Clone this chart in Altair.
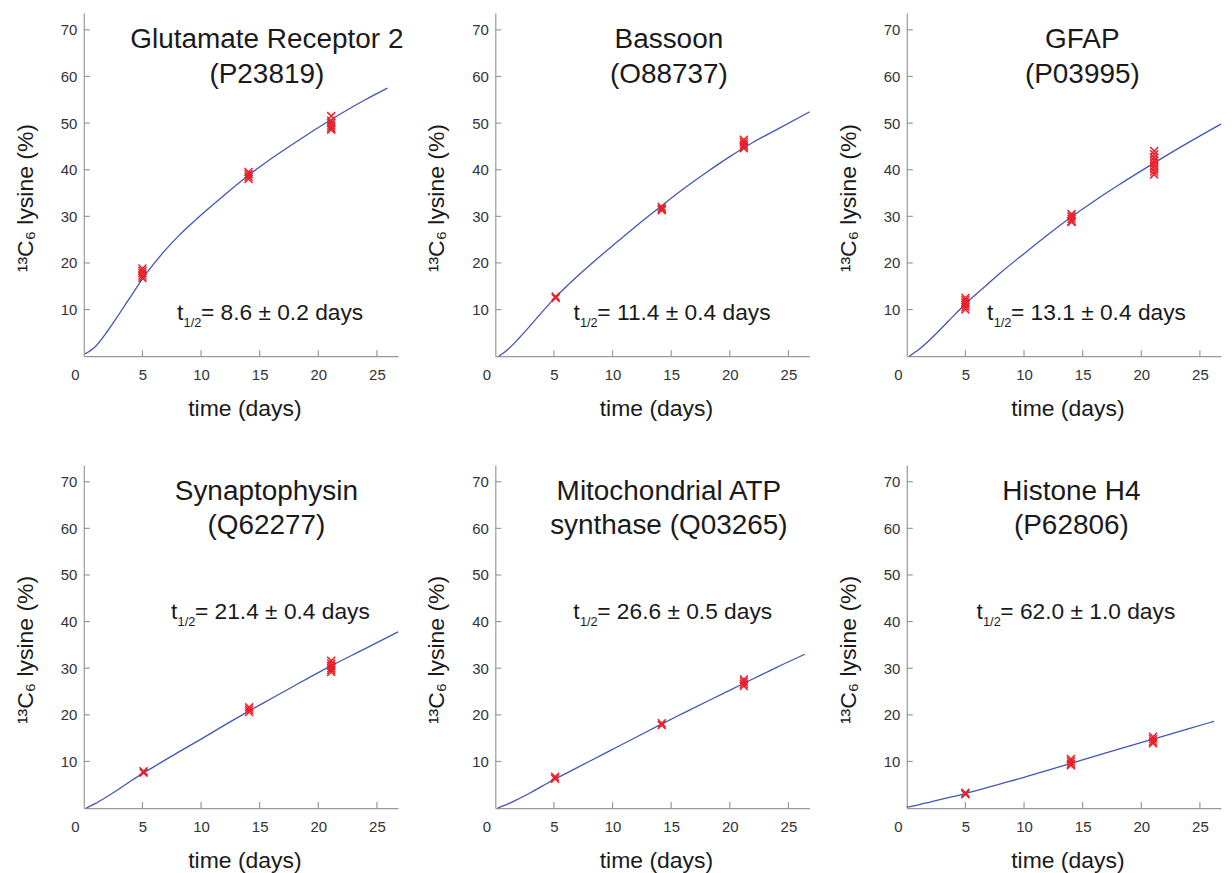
import altair as alt
import pandas as pd

# ---------------- data ----------------
panel_titles = [
    ["Glutamate Receptor 2", "(P23819)"],
    ["Bassoon", "(O88737)"],
    ["GFAP", "(P03995)"],
    ["Synaptophysin", "(Q62277)"],
    ["Mitochondrial ATP", "synthase (Q03265)"],
    ["Histone H4", "(P62806)"],
]
half_life = ["8.6 ± 0.2", "11.4 ± 0.4", "13.1 ± 0.4", "21.4 ± 0.4", "26.6 ± 0.5", "62.0 ± 1.0"]

# fitted curves (time in days, 13C6 lysine %)
fit_t_glur2 = [0.1, 1, 2, 3, 4, 5, 6, 7, 8, 10, 12, 14, 16, 18, 21, 24, 25.9]
fit_y_glur2 = [0.5, 2.1, 5.3, 9.0, 12.8, 16.6, 19.9, 22.9, 25.6, 30.3, 34.6, 38.7, 42.4, 45.8, 50.6, 55.0, 57.5]
fit_t_bsn = [0.3, 1, 2, 3, 4, 5, 6, 8, 10, 12, 14, 16, 18, 20, 22, 24, 26.8]
fit_y_bsn = [0.0, 1.3, 3.8, 6.6, 9.5, 12.3, 14.8, 19.4, 23.7, 27.9, 31.9, 35.8, 39.4, 42.8, 45.9, 48.6, 52.4]
fit_t_gfap = [0.2, 1, 2, 3, 4, 5, 6, 7, 8, 10, 12, 14, 16, 18, 21, 24, 26.8]
fit_y_gfap = [0.0, 1.4, 3.6, 6.1, 8.7, 11.2, 13.5, 15.7, 17.9, 22.0, 26.0, 29.8, 33.3, 36.6, 41.3, 45.8, 49.8]
fit_t_syp = [0.2, 1, 2, 3, 4, 5, 6, 8, 10, 12, 14, 16, 18, 21, 24, 26.8]
fit_y_syp = [0.0, 1.0, 2.5, 4.1, 5.8, 7.4, 8.9, 11.9, 14.8, 17.8, 20.7, 23.5, 26.3, 30.4, 34.2, 37.8]
fit_t_atp = [0.2, 1, 2, 3, 4, 5, 6, 8, 10, 12, 14, 16, 18, 21, 24, 26.4]
fit_y_atp = [0.0, 0.8, 2.0, 3.3, 4.7, 6.1, 7.4, 10.0, 12.6, 15.2, 17.8, 20.3, 22.8, 26.5, 30.2, 33.0]
fit_t_h4 = [0.0, 1, 2, 3, 4, 5, 6, 8, 10, 12, 14, 16, 18, 21, 24, 26.2]
fit_y_h4 = [0.2, 0.7, 1.3, 1.9, 2.5, 3.1, 3.8, 5.2, 6.6, 8.1, 9.6, 11.1, 12.6, 14.8, 17.0, 18.6]

# measured peptides
obs_t_glur2 = [5.0] * 5 + [14.05] * 4 + [21.1] * 6
obs_y_glur2 = [18.8, 18.3, 17.8, 17.3, 16.8, 39.5, 39.0, 38.5, 38.0, 51.5, 50.5, 50.0, 49.5, 49.0, 48.6]
obs_t_bsn = [5.15] * 2 + [14.2] * 3 + [21.2] * 5
obs_y_bsn = [12.8, 12.5, 32.0, 31.6, 31.3, 46.4, 45.9, 45.4, 45.0, 44.6]
obs_t_gfap = [5.0] * 6 + [14.05] * 5 + [21.1] * 9
obs_y_gfap = [12.5, 12.0, 11.5, 11.0, 10.5, 10.0, 30.5, 30.0, 29.5, 29.0, 28.8,
              44.0, 43.3, 42.6, 42.0, 41.4, 40.8, 40.2, 39.6, 39.0]
obs_t_syp = [5.1] * 2 + [14.1] * 3 + [21.1] * 6
obs_y_syp = [7.9, 7.6, 21.6, 21.1, 20.6, 31.6, 31.0, 30.5, 30.0, 29.6, 29.2]
obs_t_atp = [5.1] * 2 + [14.2] * 2 + [21.2] * 4
obs_y_atp = [6.7, 6.3, 18.2, 17.8, 27.6, 27.1, 26.6, 26.2]
obs_t_h4 = [5.0] * 2 + [14.0] * 4 + [21.0] * 4
obs_y_h4 = [3.3, 3.0, 10.5, 10.0, 9.5, 9.2, 15.3, 14.8, 14.3, 13.9]

fit_t = [fit_t_glur2, fit_t_bsn, fit_t_gfap, fit_t_syp, fit_t_atp, fit_t_h4]
fit_y = [fit_y_glur2, fit_y_bsn, fit_y_gfap, fit_y_syp, fit_y_atp, fit_y_h4]
obs_t = [obs_t_glur2, obs_t_bsn, obs_t_gfap, obs_t_syp, obs_t_atp, obs_t_h4]
obs_y = [obs_y_glur2, obs_y_bsn, obs_y_gfap, obs_y_syp, obs_y_atp, obs_y_h4]

x_label_values = [0, 5, 10, 15, 20, 25]
x_tick_values = [5, 10, 15, 20, 25]
y_tick_values = [10, 20, 30, 40, 50, 60, 70]

# ---------------- layout / style ----------------
W, H = 315, 344
XMAX, YMAX = 26.8, 73.6
FONT = "Liberation Sans"
LINE_COLOR = "#4157b4"
MARK_COLOR = "#e8202a"
AXIS_COLOR = "#999999"
LABEL_COLOR = "#333333"
TEXT_COLOR = "#1a1a1a"
X_CROSS = "M-1,-1L1,1M1,-1L-1,1"
TFS = 22.8  # half-life text size

# per-panel annotation placement (pixels inside the plot area)
title_x = [183.5, 174, 176, 183, 174, 165]
title_y = [34.7, 34.7, 34.7, 34.7, 34.7, 34.7]
thalf_x = [93.4, 78.3, 80.5, 87.4, 78.2, 69.8]
thalf_y = [307.6, 307.6, 307.6, 154.6, 154.6, 154.6]

one = pd.DataFrame({"a": [0]})


def txt(text, x, y, size, align="left", **kw):
    return alt.Chart(one).mark_text(
        text=text, fontSize=size, font=FONT, align=align,
        baseline="alphabetic", color=TEXT_COLOR, **kw
    ).encode(x=alt.value(x), y=alt.value(y))


def panel(i):
    xs = alt.Scale(domain=[0, XMAX], nice=False, zero=False)
    ys = alt.Scale(domain=[0, YMAX], nice=False, zero=False)
    xaxis = alt.Axis(
        values=x_label_values, grid=False, ticks=False, labelPadding=11.5,
        labelFlush=False, labelOverlap=False,
        labelOffset={"condition": {"test": "datum.value === 0", "value": -9}, "value": 0},
        title="time (days)", titleX=161, titleY=59.5, titleBaseline="alphabetic",
        titleAlign="center",
    )
    yaxis = alt.Axis(
        values=y_tick_values, grid=False, ticks=False, labelPadding=7,
        labelFlush=False, labelOverlap=False,
        title="¹³C₆ lysine (%)", titleX=-51.5, titleY=185, titleAngle=270,
        titleBaseline="alphabetic", titleAlign="center",
    )
    X = alt.X("t:Q", scale=xs, axis=xaxis)
    Y = alt.Y("y:Q", scale=ys, axis=yaxis)

    fit = pd.DataFrame({"t": fit_t[i], "y": fit_y[i]})
    obs = pd.DataFrame({"t": obs_t[i], "y": obs_y[i]})

    line = alt.Chart(fit).mark_line(
        color=LINE_COLOR, strokeWidth=1.3, interpolate="monotone"
    ).encode(x=X, y=Y)
    pts = alt.Chart(obs).mark_point(
        shape=X_CROSS, filled=False, size=64, color=MARK_COLOR, strokeWidth=1.5, opacity=1
    ).encode(x=X, y=Y)
    xt = alt.Chart(pd.DataFrame({"t": x_tick_values})).mark_rule(
        color=AXIS_COLOR, strokeWidth=1.2
    ).encode(x=X, y=alt.value(H), y2=alt.value(H - 6))
    yt = alt.Chart(pd.DataFrame({"y": y_tick_values})).mark_rule(
        color=AXIS_COLOR, strokeWidth=1.2
    ).encode(y=Y, x=alt.value(0), x2=alt.value(6))

    ttl = txt(panel_titles[i], title_x[i], title_y[i], 28, align="center", lineHeight=35)
    tx = thalf_x[i]
    ty = thalf_y[i]
    t_main = txt("t", tx, ty, TFS)
    t_sub = txt("1/2", tx + 6.6, ty + 7, 12.8)
    t_rest = txt("= " + half_life[i] + " days", tx + 24, ty, TFS)

    return alt.layer(line, pts, xt, yt, ttl, t_main, t_sub, t_rest).properties(width=W, height=H)


chart = alt.concat(
    *[panel(i) for i in range(6)],
    columns=3,
    spacing=alt.RowColnumber(row=109, column=97.5),
    bounds="flush",
).properties(
    padding={"left": 6, "top": 4, "right": 0, "bottom": 0}
).configure_view(stroke=None).configure_axis(
    domainColor=AXIS_COLOR, domainWidth=1.2,
    labelFont=FONT, labelFontSize=15, labelColor=LABEL_COLOR,
    titleFont=FONT, titleFontSize=23, titleFontWeight="normal", titleColor=TEXT_COLOR,
)

chart.save("out.html", embed_options={"renderer": "svg", "actions": False})
